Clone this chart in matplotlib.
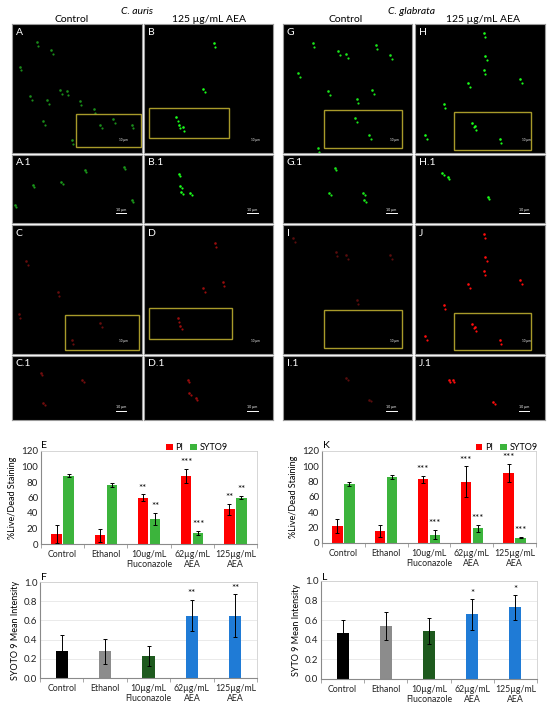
import matplotlib.pyplot as plt
import numpy as np

W, H = 550, 709

# ---- bar chart data ----
categories = ["Control", "Ethanol", "10ug/mL\nFluconazole", "62µg/mL\nAEA", "125µg/mL\nAEA"]
categories_f = ["Control", "Ethanol", "10µg/mL\nFluconazole", "62µg/mL\nAEA", "125µg/mL\nAEA"]

e_pi = [13, 11, 60, 88, 45]
e_pi_err = [12, 8, 4, 9, 7]
e_syto = [88, 76, 32, 14, 60]
e_syto_err = [2, 3, 8, 3, 2]
e_pi_stars = ["", "", "**", "***", "**"]
e_syto_stars = ["", "", "**", "***", "**"]

k_pi = [22, 16, 83, 80, 91]
k_pi_err = [9, 8, 5, 20, 12]
k_syto = [77, 86, 11, 19, 7]
k_syto_err = [3, 3, 6, 5, 1]
k_pi_stars = ["", "", "***", "***", "***"]
k_syto_stars = ["", "", "***", "***", "***"]

f_vals = [0.28, 0.28, 0.23, 0.65, 0.65]
f_err = [0.165, 0.13, 0.10, 0.165, 0.22]
f_stars = ["", "", "", "**", "**"]

l_vals = [0.47, 0.54, 0.49, 0.66, 0.73]
l_err = [0.13, 0.14, 0.13, 0.155, 0.125]
l_stars = ["", "", "", "*", "*"]

intensity_colors = ["#000000", "#8c8c8c", "#1e5a1e", "#1f7bd6"]

# ---- cells seen in the microscopy panels (fraction of panel, y from top) ----
cells = {
    "A": [(0.19, 0.14), (0.30, 0.20), (0.06, 0.33), (0.37, 0.51), (0.42, 0.52), (0.27, 0.59),
          (0.52, 0.60), (0.68, 0.78), (0.78, 0.74), (0.92, 0.78), (0.46, 0.90), (0.63, 0.66),
          (0.24, 0.75), (0.14, 0.56)],
    "B": [(0.54, 0.15), (0.46, 0.50), (0.25, 0.72), (0.27, 0.78), (0.30, 0.80)],
    "A.1": [(0.38, 0.39), (0.56, 0.22), (0.86, 0.17), (0.02, 0.73), (0.16, 0.44), (0.92, 0.66)],
    "B.1": [(0.27, 0.28), (0.28, 0.46), (0.29, 0.54), (0.36, 0.56)],
    "C": [(0.11, 0.28), (0.35, 0.52), (0.05, 0.69), (0.46, 0.89), (0.68, 0.76)],
    "D": [(0.55, 0.14), (0.46, 0.49), (0.61, 0.44), (0.26, 0.72), (0.28, 0.78)],
    "C.1": [(0.22, 0.27), (0.24, 0.74), (0.54, 0.38)],
    "D.1": [(0.34, 0.38), (0.35, 0.58), (0.40, 0.65)],
    "G": [(0.43, 0.21), (0.49, 0.23), (0.23, 0.15), (0.72, 0.16), (0.83, 0.24), (0.12, 0.38),
          (0.35, 0.52), (0.57, 0.58), (0.69, 0.51), (0.56, 0.73), (0.67, 0.86), (0.27, 0.96)],
    "H": [(0.53, 0.07), (0.54, 0.25), (0.53, 0.36), (0.41, 0.46), (0.81, 0.43), (0.22, 0.62),
          (0.44, 0.77), (0.46, 0.79), (0.65, 0.89), (0.08, 0.86)],
    "G.1": [(0.40, 0.19), (0.36, 0.56), (0.62, 0.56), (0.63, 0.66)],
    "H.1": [(0.21, 0.27), (0.25, 0.32), (0.56, 0.62)],
    "I": [(0.41, 0.21), (0.49, 0.23), (0.83, 0.23), (0.57, 0.58), (0.08, 0.10)],
    "J": [(0.53, 0.07), (0.54, 0.25), (0.53, 0.36), (0.41, 0.46), (0.81, 0.43), (0.22, 0.62),
          (0.44, 0.77), (0.46, 0.79), (0.65, 0.89), (0.08, 0.86)],
    "I.1": [(0.49, 0.34), (0.67, 0.68)],
    "J.1": [(0.29, 0.37), (0.26, 0.37), (0.60, 0.72)],
}


def px_rect(x0, y0, x1, y1):
    return [x0 / W, 1 - y1 / H, (x1 - x0) / W, (y1 - y0) / H]


fig = plt.figure(figsize=(5.5, 7.09), dpi=100)
plt.rcParams['font.family'] = ['Lato', 'DejaVu Sans']

# panel layout: name, column, row, channel, brightness, yellow box (x0, y0, x1, y1 from top)
col_x = [(12, 142), (144, 273), (283, 412), (415, 545)]
row_y = [(24, 153), (155, 223), (225, 354), (356, 420)]
panels = [
    ("A", 0, 0, "g", 0.55, (0.49, 0.70, 0.99, 0.95)),
    ("B", 1, 0, "g", 1.0, (0.04, 0.65, 0.66, 0.88)),
    ("A.1", 0, 1, "g", 0.6, None),
    ("B.1", 1, 1, "g", 1.0, None),
    ("C", 0, 2, "r", 0.4, (0.41, 0.70, 0.98, 0.97)),
    ("D", 1, 2, "r", 0.6, (0.04, 0.64, 0.68, 0.88)),
    ("C.1", 0, 3, "r", 0.45, None),
    ("D.1", 1, 3, "r", 0.6, None),
    ("G", 2, 0, "g", 0.9, (0.32, 0.67, 0.92, 0.96)),
    ("H", 3, 0, "g", 1.0, (0.30, 0.68, 0.89, 0.98)),
    ("G.1", 2, 1, "g", 0.9, None),
    ("H.1", 3, 1, "g", 1.0, None),
    ("I", 2, 2, "r", 0.35, (0.32, 0.66, 0.92, 0.95)),
    ("J", 3, 2, "r", 1.0, (0.30, 0.68, 0.89, 0.97)),
    ("I.1", 2, 3, "r", 0.35, None),
    ("J.1", 3, 3, "r", 1.0, None),
]

for name, ci, ri, chan, bright, box in panels:
    x0, x1 = col_x[ci]
    y0, y1 = row_y[ri]
    ax = fig.add_axes(px_rect(x0, y0, x1, y1))
    ax.set_facecolor("black")
    ax.set_xlim(0, 1)
    ax.set_ylim(1, 0)
    ax.set_xticks([])
    ax.set_yticks([])
    for s in ax.spines.values():
        s.set_color("#9a9a9a")
        s.set_linewidth(0.8)
    pts = np.array(cells[name])
    c = (0.1, bright, 0.1) if chan == "g" else (bright, 0.05, 0.05)
    ax.scatter(pts[:, 0], pts[:, 1], s=3.5, color=c, marker="o", linewidths=0)
    ax.scatter(pts[:, 0] + 0.012, pts[:, 1] + 0.03, s=2.5, color=c, marker="o", linewidths=0)
    ax.text(0.03, 0.97 if ri in (0, 2) else 0.95, name, color="white", fontsize=7.5,
            va="top", ha="left", transform=ax.transAxes)
    if box is not None:
        bx0, by0, bx1, by1 = box
        ax.add_patch(plt.Rectangle((bx0, by0), bx1 - bx0, by1 - by0, fill=False,
                                   edgecolor="#a89a2a", linewidth=1.0))
        ax.text(0.86, 0.09, "10 µm", color="white", fontsize=2.2, ha="center",
                transform=ax.transAxes)
    else:
        ax.text(0.84, 0.18, "10 µm", color="white", fontsize=2.5, ha="center",
                transform=ax.transAxes)
        ax.plot([0.80, 0.88], [0.86, 0.86], color="white", lw=0.7)

# headers
fig.text(137 / W, 1 - 11 / H, "C. auris", fontsize=7.5, style="italic", ha="center", va="center")
fig.text(412 / W, 1 - 11 / H, "C. glabrata", fontsize=7.5, style="italic", ha="center", va="center")
for cx, lab in [(72, "Control"), (209, "125 µg/mL AEA"), (346, "Control"), (483, "125 µg/mL AEA")]:
    fig.text(cx / W, 1 - 19 / H, lab, fontsize=7.5, ha="center", va="center")


def style_axes(ax, ymax, ystep, grid, fmt):
    ax.set_xlim(-0.5, 4.5)
    ax.set_ylim(0, ymax)
    ax.set_yticks(np.arange(0, ymax + ystep / 2, ystep))
    ax.yaxis.set_major_formatter(plt.FormatStrFormatter(fmt))
    ax.set_xticks(range(5))
    ax.set_xticks(np.arange(-0.5, 5, 1), minor=True)
    ax.tick_params(axis="x", which="major", length=0, labelsize=6.3, pad=4, colors="#222222")
    ax.tick_params(axis="x", which="minor", length=3, color="#999999")
    ax.tick_params(axis="y", length=0, labelsize=7, colors="#222222", pad=2)
    for side in ("top", "right"):
        ax.spines[side].set_color("#d0d0d0")
        ax.spines[side].set_linewidth(0.6)
    for side in ("left", "bottom"):
        ax.spines[side].set_color("#8a8a8a")
        ax.spines[side].set_linewidth(0.8)
    if grid:
        ax.yaxis.grid(True, color="#e6e6e6", linewidth=0.6)
        ax.set_axisbelow(True)


def live_dead(rect, pi, pi_err, sy, sy_err, pi_st, sy_st, letter, lx, legend_x):
    ax = fig.add_axes(px_rect(*rect))
    x = np.arange(5)
    off, w = 0.14, 0.24
    ekw = dict(elinewidth=0.7, capsize=1.6, capthick=0.7, ecolor="black")
    ax.bar(x - off, pi, w, yerr=pi_err, color="#ff0000", error_kw=ekw, label="PI")
    ax.bar(x + off, sy, w, yerr=sy_err, color="#3cb43c", error_kw=ekw, label="SYTO9")
    for i in range(5):
        if pi_st[i]:
            ax.text(x[i] - off, pi[i] + pi_err[i] + 2, pi_st[i], ha="center", va="bottom", fontsize=7)
        if sy_st[i]:
            ax.text(x[i] + off, sy[i] + sy_err[i] + 2, sy_st[i], ha="center", va="bottom", fontsize=7)
    style_axes(ax, 120, 20, False, "%d")
    ax.set_xticklabels(categories, linespacing=1.25)
    ax.set_ylabel("%Live/Dead Staining", fontsize=6.5, labelpad=3)
    fig.text(lx / W, 1 - (rect[1] - 6) / H, letter, fontsize=7.5, va="center")
    ax.legend(loc="lower left", bbox_to_anchor=(legend_x, 0.99), ncol=2, frameon=False,
              fontsize=6.5, handlelength=0.7, handleheight=0.7, handletextpad=0.3,
              columnspacing=0.8, borderaxespad=0, borderpad=0)
    return ax


def intensity(rect, vals, err, stars, letter, lx, ylabel, cats):
    ax = fig.add_axes(px_rect(*rect))
    x = np.arange(5)
    colors = [intensity_colors[0], intensity_colors[1], intensity_colors[2],
              intensity_colors[3], intensity_colors[3]]
    ekw = dict(elinewidth=0.7, capsize=1.6, capthick=0.7, ecolor="black")
    ax.bar(x, vals, 0.28, yerr=err, color=colors, error_kw=ekw)
    for i in range(5):
        if stars[i]:
            ax.text(x[i], vals[i] + err[i] + 0.015, stars[i], ha="center", va="bottom", fontsize=7)
    style_axes(ax, 1.0, 0.2, True, "%.1f")
    ax.set_xticklabels(cats, linespacing=1.25)
    ax.set_ylabel(ylabel, fontsize=6.5, labelpad=3)
    fig.text(lx / W, 1 - (rect[1] - 4) / H, letter, fontsize=7.5, va="center")
    return ax


live_dead((41, 451, 257, 544), e_pi, e_pi_err, e_syto, e_syto_err, e_pi_stars, e_syto_stars,
          "E", 41, 0.58)
live_dead((322, 451, 536, 543), k_pi, k_pi_err, k_syto, k_syto_err, k_pi_stars, k_syto_stars,
          "K", 323, 0.72)
intensity((40, 582, 257, 678), f_vals, f_err, f_stars, "F", 41, "SYOTO 9 Mean Intensity", categories_f)
intensity((321, 581, 537, 679), l_vals, l_err, l_stars, "L", 322, "SYTO 9 Mean Intensity", categories_f)

fig.savefig("out.png", dpi=100)
